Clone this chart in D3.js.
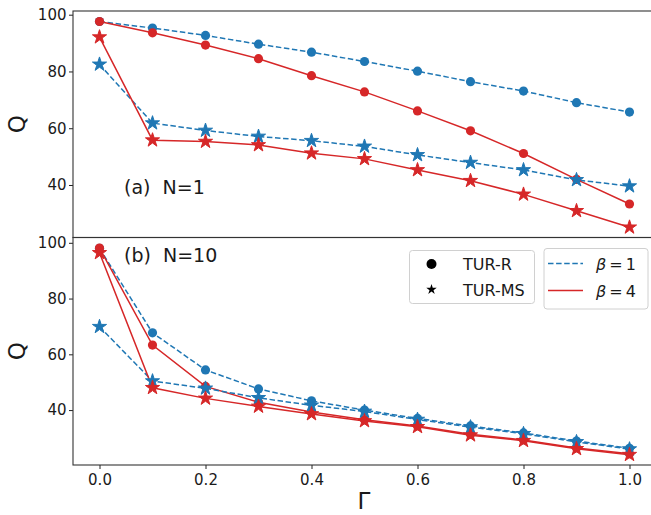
<!DOCTYPE html>
<head>
  <meta charset="utf-8">
  <script src="https://d3js.org/d3.v7.min.js"></script>
  <style>
    body { margin: 0; background: #fff; }
    text { font-family: "DejaVu Sans", sans-serif; fill: #1a1a1a; }
  </style>
</head>
<body>
  <div id="chart"></div>
</body>

<script>

// x values (Gamma)
var gamma = [0.0, 0.1, 0.2, 0.3, 0.4, 0.5, 0.6, 0.7, 0.8, 0.9, 1.0];

// panel (a) N=1
var aTurR_b1  = [97.6, 95.3, 92.7, 89.6, 86.8, 83.5, 80.1, 76.4, 73.1, 69.0, 65.7];
var aTurR_b4  = [97.6, 93.6, 89.3, 84.5, 78.5, 72.8, 66.1, 59.1, 51.1, 42.0, 33.3];
var aTurMS_b1 = [82.5, 61.8, 59.2, 57.1, 55.6, 53.6, 50.6, 47.9, 45.3, 41.8, 39.6];
var aTurMS_b4 = [92.1, 55.8, 55.3, 54.1, 51.2, 49.2, 45.3, 41.5, 36.7, 30.9, 25.1];

// panel (b) N=10
var bTurR_b1  = [98.0, 67.7, 54.4, 47.6, 43.3, 40.0, 37.0, 34.3, 31.8, 28.9, 26.3];
var bTurR_b4  = [98.1, 63.3, 48.5, 42.8, 39.3, 36.5, 34.3, 31.3, 29.3, 26.4, 24.3];
var bTurMS_b1 = [69.9, 50.4, 47.8, 44.4, 41.7, 39.5, 36.6, 33.9, 31.5, 28.6, 26.0];
var bTurMS_b4 = [96.4, 48.0, 44.2, 41.3, 38.6, 36.1, 34.0, 31.0, 29.0, 26.1, 24.0];

var xTicks = [0.0, 0.2, 0.4, 0.6, 0.8, 1.0];
var yTicks = [40, 60, 80, 100];

var blue = "#1f77b4", red = "#d62728";

var W = 651, H = 515;
var left = 73, right = 656;

var svg = d3.select("#chart").append("svg")
  .attr("width", W).attr("height", H);

var x = d3.scaleLinear().domain([-0.05, 1.05]).range([left, right]);

var panels = [
  { top: 11, bottom: 237.5, domain: [21.5, 101.3], label: "(a)  N=1", labelY: 194,
    series: [[aTurR_b1, "c", blue, true], [aTurR_b4, "c", red, false],
             [aTurMS_b1, "s", blue, true], [aTurMS_b4, "s", red, false]] },
  { top: 237.5, bottom: 465, domain: [20.3, 101.9], label: "(b)  N=10", labelY: 262,
    series: [[bTurR_b1, "c", blue, true], [bTurR_b4, "c", red, false],
             [bTurMS_b1, "s", blue, true], [bTurMS_b4, "s", red, false]] }
];

var star = d3.symbol().type(d3.symbolStar).size(62);

panels.forEach(function(p, i) {
  var y = d3.scaleLinear().domain(p.domain).range([p.bottom, p.top]);
  var g = svg.append("g");

  // y axis
  var ya = g.append("g")
    .attr("transform", "translate(" + left + ",0)")
    .call(d3.axisLeft(y).tickValues(yTicks).tickSize(4).tickPadding(2.5).tickSizeOuter(0));
  ya.select(".domain").remove();
  ya.selectAll("line").attr("stroke", "#222");
  ya.selectAll("text").style("font-size", "15px").attr("fill", "#1a1a1a");

  // lines + markers
  p.series.forEach(function(s) {
    var vals = s[0];
    var line = d3.line()
      .x(function(d, k) { return x(gamma[k]); })
      .y(function(d) { return y(d); });
    g.append("path")
      .datum(vals)
      .attr("d", line)
      .attr("fill", "none")
      .attr("stroke", s[2])
      .attr("stroke-width", 1.5)
      .attr("stroke-dasharray", s[3] ? "5.5,2.6" : null);
  });
  p.series.forEach(function(s) {
    var vals = s[0];
    if (s[1] == "c") {
      g.append("g").selectAll("circle")
        .data(vals).enter().append("circle")
          .attr("cx", function(d, k) { return x(gamma[k]); })
          .attr("cy", function(d) { return y(d); })
          .attr("r", 4.6)
          .attr("fill", s[2]);
    } else {
      g.append("g").selectAll("path")
        .data(vals).enter().append("path")
          .attr("d", star)
          .attr("transform", function(d, k) { return "translate(" + x(gamma[k]) + "," + y(d) + ")"; })
          .attr("fill", s[2])
          .attr("stroke", s[2])
          .attr("stroke-width", 1)
          .attr("stroke-linejoin", "round");
    }
  });

  // frame
  g.append("rect")
    .attr("x", left).attr("y", p.top)
    .attr("width", right - left).attr("height", p.bottom - p.top)
    .attr("fill", "none").attr("stroke", "#333").attr("stroke-width", 1.1);

  // panel label
  g.append("text")
    .attr("x", 124).attr("y", p.labelY)
    .style("font-size", "19px")
    .style("white-space", "pre")
    .text(p.label);

  // y label
  g.append("text")
    .attr("transform", "translate(25," + ((p.top + p.bottom) / 2) + ") rotate(-90)")
    .attr("text-anchor", "middle")
    .style("font-size", "23px")
    .text("Q");
});

// x axis on bottom panel
var xa = svg.append("g")
  .attr("transform", "translate(0,465)")
  .call(d3.axisBottom(x).tickValues(xTicks).tickFormat(d3.format(".1f"))
    .tickSize(4).tickPadding(5).tickSizeOuter(0));
xa.select(".domain").remove();
xa.selectAll("line").attr("stroke", "#222");
xa.selectAll("text").style("font-size", "15px").attr("fill", "#1a1a1a");

// x label
svg.append("text")
  .attr("x", 364).attr("y", 509)
  .attr("text-anchor", "middle")
  .style("font-size", "23px")
  .text("\u0393");

// legend 1: markers
var lg1 = svg.append("g");
lg1.append("rect")
  .attr("x", 409.5).attr("y", 250.5).attr("width", 125).attr("height", 53).attr("rx", 3)
  .attr("fill", "#fff").attr("fill-opacity", 0.85).attr("stroke", "#d0d0d0");
lg1.append("circle").attr("cx", 431.5).attr("cy", 264).attr("r", 5).attr("fill", "#000");
lg1.append("path").attr("d", d3.symbol().type(d3.symbolStar).size(34))
  .attr("transform", "translate(431.5,289.5)").attr("fill", "#000");
lg1.append("text").attr("x", 463).attr("y", 270).style("font-size", "16px").text("TUR-R");
lg1.append("text").attr("x", 463).attr("y", 295.5).style("font-size", "16px").text("TUR-MS");

// legend 2: beta
var betas = ["1", "4"];
var lg2 = svg.append("g");
lg2.append("rect")
  .attr("x", 544).attr("y", 248.5).attr("width", 104).attr("height", 60.5).attr("rx", 3)
  .attr("fill", "#fff").attr("fill-opacity", 0.85).attr("stroke", "#d0d0d0");
betas.forEach(function(b, i) {
  var yy = 263.5 + i * 27;
  lg2.append("line")
    .attr("x1", 548).attr("x2", 583).attr("y1", yy).attr("y2", yy)
    .attr("stroke", i == 0 ? blue : red).attr("stroke-width", 1.5)
    .attr("stroke-dasharray", i == 0 ? "5.5,2.6" : null);
  var t = lg2.append("text").attr("x", 596).attr("y", yy + 6).style("font-size", "16px");
  t.append("tspan").style("font-style", "italic").text("\u03b2");
  t.append("tspan").attr("dx", 3).text("=");
  t.append("tspan").attr("dx", 3).text(b);
});

</script>
